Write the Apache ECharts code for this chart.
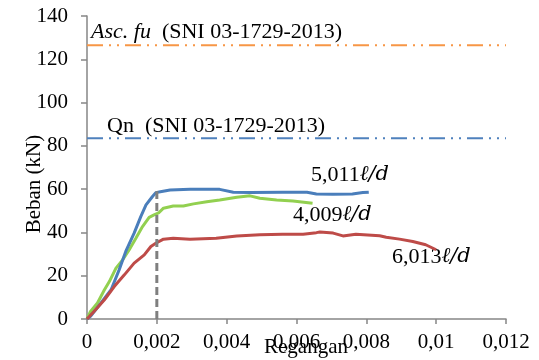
<!DOCTYPE html>
<html lang="id">
<head>
    <meta charset="UTF-8" />
    <title>Beban - Regangan</title>
    <script src="https://cdn.jsdelivr.net/npm/echarts@6/dist/echarts.min.js"></script>
    <style>
        html, body { margin: 0; padding: 0; background: #fff; }
        #main { width: 539px; height: 360px; }
    </style>
</head>
<body>
    <div id="main"></div>
    <script>
        // regangan (strain) dan beban (kN) tiap benda uji
        const strain5011 = [0, 0.0001, 0.0004, 0.00069, 0.00092, 0.00111, 0.00135, 0.00154, 0.00169, 0.00187, 0.00197, 0.0021, 0.00238, 0.00295, 0.0038, 0.00419, 0.00467, 0.0056, 0.0063, 0.00657, 0.00704, 0.0076, 0.0079, 0.00807];
        const load5011 = [0, 1.2, 7.4, 13.5, 22.7, 31.2, 39.7, 47.3, 52.7, 56.5, 58.4, 58.8, 59.6, 59.9, 59.9, 58.6, 58.4, 58.6, 58.6, 57.8, 57.6, 57.8, 58.4, 58.6];

        const strain4009 = [0, 0.0001, 0.0003, 0.0005, 0.00064, 0.00083, 0.00102, 0.00121, 0.0014, 0.00159, 0.00178, 0.00192, 0.00205, 0.00219, 0.00247, 0.00276, 0.00305, 0.00343, 0.0038, 0.00429, 0.00467, 0.00495, 0.00543, 0.0059, 0.00646];
        const load4009 = [0, 3.5, 7.4, 13.5, 17.3, 23.5, 27.3, 32, 37.3, 42.7, 47, 48.1, 49, 51.2, 52.2, 52.2, 53.2, 54.2, 55, 56.3, 56.9, 55.8, 55, 54.5, 53.5];

        const strain6013 = [0, 0.0002, 0.0005, 0.00078, 0.00107, 0.00135, 0.00164, 0.00183, 0.00197, 0.00219, 0.00247, 0.00295, 0.0037, 0.00429, 0.00495, 0.0056, 0.00619, 0.00657, 0.00667, 0.00705, 0.00733, 0.0077, 0.00838, 0.00857, 0.00862, 0.00895, 0.00933, 0.0097, 0.01];
        const load6013 = [0, 3.5, 8.9, 15, 20.4, 25.8, 29.6, 33.5, 35, 36.9, 37.3, 36.9, 37.3, 38.4, 38.9, 39.2, 39.2, 39.9, 40.2, 39.7, 38.4, 39.2, 38.5, 37.8, 38.3, 36.9, 35.8, 34.3, 32];

        // batas SNI 03-1729-2013
        const limitStrain = [0, 0.012];
        const ascFu = 126.5;
        const qn = 83.5;

        // garis leleh
        const yieldStrain = 0.002;
        const yieldLoad = [0, 59];

        const pairs = (xs, ys) => xs.map((x, i) => [x, ys[i]]);

        var chartDom = document.getElementById('main');
        var myChart = echarts.init(chartDom, null, { renderer: 'canvas' });

        const axisColor = '#868686';
        const serif = 'Liberation Serif';
        const labelRich = { i: { fontStyle: 'italic', fontFamily: 'DejaVu Serif', fontSize: 21 } };

        var option = {
            animation: false,
            grid: { left: 87, right: 33, top: 16, bottom: 41, containLabel: false, outerBoundsMode: 'none' },
            xAxis: {
                type: 'value',
                min: 0,
                max: 0.012,
                interval: 0.002,
                name: 'Regangan',
                nameLocation: 'middle',
                nameGap: 18,
                nameMoveOverlap: false,
                nameTextStyle: { fontFamily: serif, fontSize: 21, color: '#000', padding: [0, 0, 0, 19] },
                axisLine: { lineStyle: { color: axisColor, width: 1.5 } },
                axisTick: { show: true, length: 5, lineStyle: { color: axisColor, width: 1.5 } },
                splitLine: { show: false },
                axisLabel: {
                    margin: 13,
                    fontFamily: serif,
                    fontSize: 21,
                    color: '#000',
                    formatter: v => String(+v.toFixed(3)).replace('.', ',')
                }
            },
            yAxis: {
                type: 'value',
                min: 0,
                max: 140,
                interval: 20,
                name: 'Beban (kN)',
                nameLocation: 'middle',
                nameGap: 42,
                nameMoveOverlap: false,
                nameTextStyle: { fontFamily: serif, fontSize: 21, color: '#000', padding: [0, 33, 0, 0] },
                axisLine: { show: true, lineStyle: { color: axisColor, width: 1.5 } },
                axisTick: { show: true, length: 6, lineStyle: { color: axisColor, width: 1.5 } },
                splitLine: { show: false },
                axisLabel: { margin: 19, fontFamily: serif, fontSize: 21, color: '#000' }
            },
            series: [
                {
                    name: 'Asc.fu',
                    type: 'line',
                    showSymbol: false,
                    data: limitStrain.map(x => [x, ascFu]),
                    lineStyle: { color: '#f79646', width: 2, type: [16, 6, 2, 6, 2, 6] }
                },
                {
                    name: 'Qn',
                    type: 'line',
                    showSymbol: false,
                    data: limitStrain.map(x => [x, qn]),
                    lineStyle: { color: '#4f81bd', width: 2, type: [16, 6, 2, 6, 2, 6] }
                },
                {
                    name: '4,009',
                    type: 'line',
                    showSymbol: false,
                    data: pairs(strain4009, load4009),
                    lineStyle: { color: '#92d050', width: 3 }
                },
                {
                    name: '5,011',
                    type: 'line',
                    showSymbol: false,
                    data: pairs(strain5011, load5011),
                    lineStyle: { color: '#4a7ebb', width: 3 }
                },
                {
                    name: '6,013',
                    type: 'line',
                    showSymbol: false,
                    data: pairs(strain6013, load6013),
                    lineStyle: { color: '#be4b48', width: 3 }
                },
                {
                    name: 'leleh',
                    type: 'line',
                    showSymbol: false,
                    data: yieldLoad.map(y => [yieldStrain, y]),
                    lineStyle: { color: '#7f7f7f', width: 3, type: [8, 4] }
                }
            ],
            graphic: {
                elements: [
                    {
                        type: 'text', x: 91, y: 32,
                        style: {
                            text: '{i|Asc. fu}  (SNI 03-1729-2013)',
                            font: '22px "Liberation Serif"',
                            fill: '#000',
                            verticalAlign: 'middle',
                            rich: { i: { fontStyle: 'italic', fontFamily: serif, fontSize: 22 } }
                        }
                    },
                    {
                        type: 'text', x: 107, y: 126,
                        style: {
                            text: 'Qn  (SNI 03-1729-2013)',
                            font: '22px "Liberation Serif"',
                            fill: '#000',
                            verticalAlign: 'middle'
                        }
                    },
                    {
                        type: 'text', x: 311, y: 175,
                        style: { text: '5,011{i|ℓ/d}', font: '22px "Liberation Serif"', fill: '#000', verticalAlign: 'middle', rich: labelRich }
                    },
                    {
                        type: 'text', x: 293, y: 215,
                        style: { text: '4,009{i|ℓ/d}', font: '22px "Liberation Serif"', fill: '#000', verticalAlign: 'middle', rich: labelRich }
                    },
                    {
                        type: 'text', x: 392, y: 257,
                        style: { text: '6,013{i|ℓ/d}', font: '22px "Liberation Serif"', fill: '#000', verticalAlign: 'middle', rich: labelRich }
                    }
                ]
            }
        };

        myChart.setOption(option);
    </script>
</body>
</html>
